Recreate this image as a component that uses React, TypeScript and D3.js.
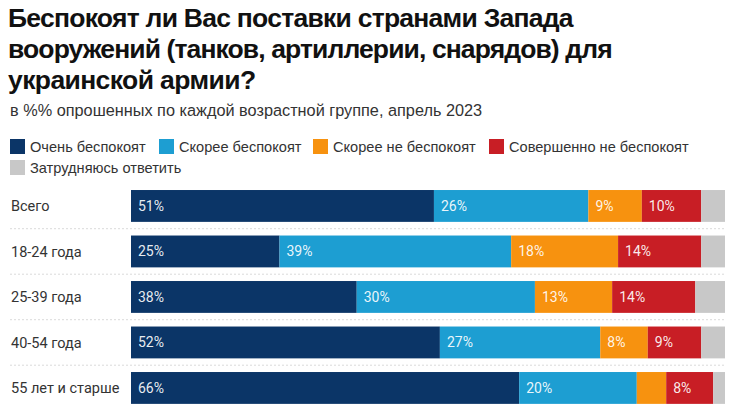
import { useMemo } from "react"
import * as d3 from "d3"

// Survey data, % of respondents per age group
const categories = ["Всего", "18-24 года", "25-39 года", "40-54 года", "55 лет и старше"]
const seriesNames = [
  "Очень беспокоят",
  "Скорее беспокоят",
  "Скорее не беспокоят",
  "Совершенно не беспокоят",
  "Затрудняюсь ответить",
]
const veryWorried = [51, 25, 38, 52, 66]
const ratherWorried = [26, 39, 30, 27, 20]
const ratherNot = [9, 18, 13, 8, 5]
const notAtAll = [10, 14, 14, 9, 8]
const hardToSay = [4, 4, 5, 4, 2]

const titleLines = [
  "Беспокоят ли Вас поставки странами Запада",
  "вооружений (танков, артиллерии, снарядов) для",
  "украинской армии?",
]
const subtitle = "в %% опрошенных по каждой возрастной группе, апрель 2023"

const colors = ["#0b3567", "#1d9ed2", "#f7920f", "#c81e25", "#c8c8c8"]

const WIDTH = 740
const HEIGHT = 419
const margin = { left: 131, right: 15 }
const titleFont = "'Liberation Sans', Arial, sans-serif"
const bodyFont = "Roboto, 'Noto Sans', sans-serif"

type Row = { category: string; [key: string]: number | string }

export default function App() {
  const rows: Row[] = categories.map((c, i) => ({
    category: c,
    s0: veryWorried[i],
    s1: ratherWorried[i],
    s2: ratherNot[i],
    s3: notAtAll[i],
    s4: hardToSay[i],
  }))
  const keys = ["s0", "s1", "s2", "s3", "s4"]

  // each row normalised to 100%
  const stacked = useMemo(
    () =>
      d3
        .stack<Row>()
        .keys(keys)
        .value((d, k) => d[k] as number)
        .offset(d3.stackOffsetExpand)(rows),
    []
  )

  const x = d3
    .scaleLinear()
    .domain([0, 1])
    .range([margin.left, WIDTH - margin.right])

  const y = d3
    .scaleBand<string>()
    .domain(categories)
    .range([183.2, 410.7])
    .paddingInner(0.3)
    .paddingOuter(0.15)

  const color = d3.scaleOrdinal<string, string>().domain(keys).range(colors)

  const legendPos = [
    [10, 139],
    [159, 139],
    [313, 139],
    [489, 139],
    [10, 160],
  ]
  const titleWidths = [565, 604, 0]

  return (
    <svg
      width={WIDTH}
      height={HEIGHT}
      style={{ position: "absolute", left: 0, top: 0, background: "#fff" }}
    >
      {/* title */}
      {titleLines.map((t, i) => (
        <text
          key={t}
          x={8}
          y={27 + i * 31}
          fontFamily={titleFont}
          fontWeight={700}
          fontSize={26.5}
          letterSpacing={-0.6}
          fill="#111"
          {...(titleWidths[i] ? { textLength: titleWidths[i], lengthAdjust: "spacing" } : {})}
        >
          {t}
        </text>
      ))}
      <text x={10} y={116} fontFamily={titleFont} fontSize={16.3} fill="#333">
        {subtitle}
      </text>

      {/* legend */}
      {seriesNames.map((name, i) => (
        <g key={name} transform={`translate(${legendPos[i][0]},${legendPos[i][1]})`}>
          <rect width={15} height={15} fill={colors[i]} />
          <text x={20} y={7.5} dy="0.35em" fontFamily={titleFont} fontSize={14.6} fill="#333">
            {name}
          </text>
        </g>
      ))}

      {/* separators */}
      {categories.slice(0, -1).map((c) => {
        const yy = (y(c) ?? 0) + y.bandwidth() + (y.step() - y.bandwidth()) / 2
        return (
          <line
            key={c}
            x1={10}
            x2={WIDTH - margin.right}
            y1={yy}
            y2={yy}
            stroke="#dadada"
            strokeDasharray="2,2"
          />
        )
      })}

      {/* category labels */}
      {categories.map((c) => (
        <text
          key={c}
          x={11}
          y={(y(c) ?? 0) + y.bandwidth() / 2}
          dy="0.35em"
          fontFamily={bodyFont}
          fontSize={14.5}
          fill="#333"
        >
          {c}
        </text>
      ))}

      {/* bars */}
      {stacked.map((layer, si) => (
        <g key={layer.key} fill={color(layer.key)}>
          {layer.map((d, i) => {
            const x0 = x(d[0])
            const x1 = x(d[1])
            const raw = d.data[layer.key] as number
            return (
              <g key={categories[i]}>
                <rect x={x0} y={y(categories[i])} width={x1 - x0} height={y.bandwidth()} />
                {si < 4 && raw >= 8 && (
                  <text
                    x={x0 + 7}
                    y={(y(categories[i]) ?? 0) + y.bandwidth() / 2}
                    dy="0.35em"
                    fontFamily={bodyFont}
                    fontSize={14}
                    fill="#fff"
                    fillOpacity={0.92}
                  >
                    {raw}%
                  </text>
                )}
              </g>
            )
          })}
        </g>
      ))}
    </svg>
  )
}
